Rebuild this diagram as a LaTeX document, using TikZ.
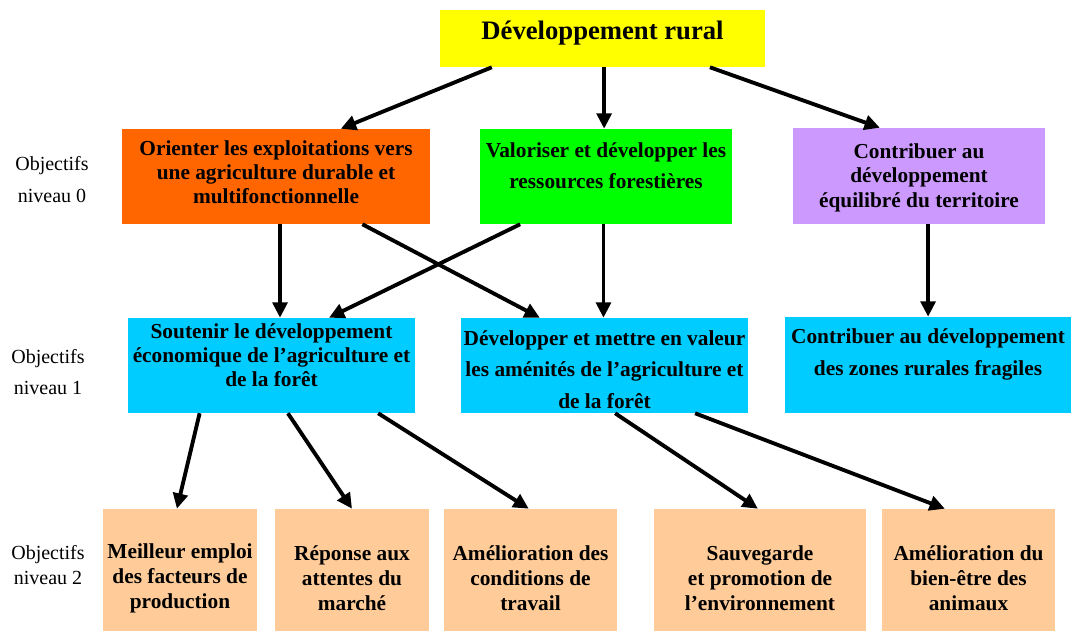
\documentclass[tikz,border=0pt]{standalone}
\usepackage{fontspec}
\setmainfont{Liberation Serif}
\usetikzlibrary{arrows.meta,positioning,calc}
\definecolor{jaune}{HTML}{FFFF00}
\definecolor{orangeR}{HTML}{FF6600}
\definecolor{vertR}{HTML}{00FF00}
\definecolor{mauve}{HTML}{CC99FF}
\definecolor{bleuR}{HTML}{00CCFF}
\definecolor{peche}{HTML}{FFCC99}

\begin{document}
\begin{tikzpicture}[x=0.75pt, y=-0.75pt,
  box/.style={inner sep=0pt, minimum height=71.25pt},
  txt/.style={align=center, font=\fontsize{16}{#1}\selectfont\bfseries},
  txt/.default=18,
  niv/.style={align=center, font=\fontsize{15}{#1}\selectfont},
  arr/.style={-{Triangle[length=11.5pt, width=11pt]}, line width=2.9pt}]
  \useasboundingbox (0,0) rectangle (1071,631);

  % titre
  \node[box, fill=jaune, minimum width=243.75pt, minimum height=42.75pt] (rural) at (602.5,38.5) {};
  \node[align=center, font=\fontsize{20}{24}\selectfont\bfseries] (rural-t) at ($(rural)+(0,-5.5)$) {Développement rural};

  % niveau 0
  \node[box, fill=orangeR, minimum width=231pt] (orient) at (276,176.5) {};
  \node[txt] (orient-t) at ($(orient)+(0,-4)$) {Orienter les exploitations vers\\une agriculture durable et\\multifonctionnelle};
  \node[box, fill=vertR, minimum width=189pt] (valor) at (606,176.5) {};
  \node[txt=23] (valor-t) at ($(valor)+(0,-11)$) {Valoriser et développer les\\ressources forestières};
  \node[box, fill=mauve, minimum width=189pt, minimum height=72pt] (contrib) at (919,176) {};
  \node[txt=18.4] (contrib-t) at ($(contrib)+(0,1.5)$) {Contribuer au\\développement\\équilibré du territoire};

  % niveau 1
  \node[box, fill=bleuR, minimum width=215.25pt] (soutenir) at (271.5,365.5) {};
  \node[txt] (soutenir-t) at ($(soutenir)+(0,-10)$) {Soutenir le développement\\économique de l’agriculture et\\de la forêt};
  \node[box, fill=bleuR, minimum width=215.25pt] (amenites) at (604.5,365.5) {};
  \node[txt=23.6] (amenites-t) at ($(amenites)+(0,4)$) {Développer et mettre en valeur\\les aménités de l’agriculture et\\de la forêt};
  \node[box, fill=bleuR, minimum width=214.5pt, minimum height=72pt] (zones) at (928,365) {};
  \node[txt=24] (zones-t) at ($(zones)+(0,-11)$) {Contribuer au développement\\des zones rurales fragiles};

  % niveau 2
  \node[box, fill=peche, minimum width=115.5pt, minimum height=91.5pt] (emploi) at (180,570) {};
  \node[txt=18.75] (emploi-t) at ($(emploi)+(0,8)$) {Meilleur emploi\\des facteurs de\\production};
  \node[box, fill=peche, minimum width=115.5pt, minimum height=91.5pt] (marche) at (352,570) {};
  \node[txt=18.75] (marche-t) at ($(marche)+(0,8)$) {Réponse aux\\attentes du\\marché};
  \node[box, fill=peche, minimum width=129.75pt, minimum height=91.5pt] (travail) at (530.5,570) {};
  \node[txt=18.75] (travail-t) at ($(travail)+(0,8)$) {Amélioration des\\conditions de\\travail};
  \node[box, fill=peche, minimum width=159pt, minimum height=91.5pt] (environ) at (760,570) {};
  \node[txt=18.75] (environ-t) at ($(environ)+(0,8)$) {Sauvegarde\\et promotion de\\l’environnement};
  \node[box, fill=peche, minimum width=129.75pt, minimum height=91.5pt] (animaux) at (968.5,570) {};
  \node[txt=18.75] (animaux-t) at ($(animaux)+(0,8)$) {Amélioration du\\bien-être des\\animaux};

  % libelles des niveaux
  \node[niv=24] (niv0) at (52,180) {Objectifs\\niveau 0};
  \node[niv=23.25] (niv1) at (48,372.5) {Objectifs\\niveau 1};
  \node[niv=18.75] (niv2) at (48,565.5) {Objectifs\\niveau 2};

  % fleches
  \draw[arr] ($(rural.south west)!0.16!(rural.south east)$) -- ($(orient.north west)!0.71!(orient.north east)$);
  \draw[arr] ($(rural.south west)!0.505!(rural.south east)$) coordinate (r2) -- (r2 |- valor.north);
  \draw[arr] ($(rural.south west)!0.83!(rural.south east)$) -- ($(contrib.north west)!0.345!(contrib.north east)$);

  \draw[arr] ($(orient.south west)!0.513!(orient.south east)$) coordinate (o1) -- (o1 |- soutenir.north);
  \draw[arr] ($(orient.south west)!0.78!(orient.south east)$) -- ($(amenites.north west)!0.275!(amenites.north east)$);
  \draw[arr] ($(valor.south west)!0.16!(valor.south east)$) -- ($(soutenir.north west)!0.70!(soutenir.north east)$);
  \draw[arr] ($(valor.south west)!0.49!(valor.south east)$) coordinate (v2) -- (v2 |- amenites.north);
  \draw[arr] ($(contrib.south west)!0.536!(contrib.south east)$) coordinate (c1) -- (c1 |- zones.north);

  \draw[arr] ($(soutenir.south west)!0.25!(soutenir.south east)$) -- ($(emploi.north west)!0.48!(emploi.north east)$);
  \draw[arr] ($(soutenir.south west)!0.557!(soutenir.south east)$) -- (marche.north);
  \draw[arr] ($(soutenir.south west)!0.871!(soutenir.south east)$) -- ($(travail.north west)!0.49!(travail.north east)$);
  \draw[arr] ($(amenites.south west)!0.537!(amenites.south east)$) -- ($(environ.north west)!0.49!(environ.north east)$);
  \draw[arr] ($(amenites.south west)!0.815!(amenites.south east)$) -- ($(animaux.north west)!0.364!(animaux.north east)$);
\end{tikzpicture}
\end{document}
